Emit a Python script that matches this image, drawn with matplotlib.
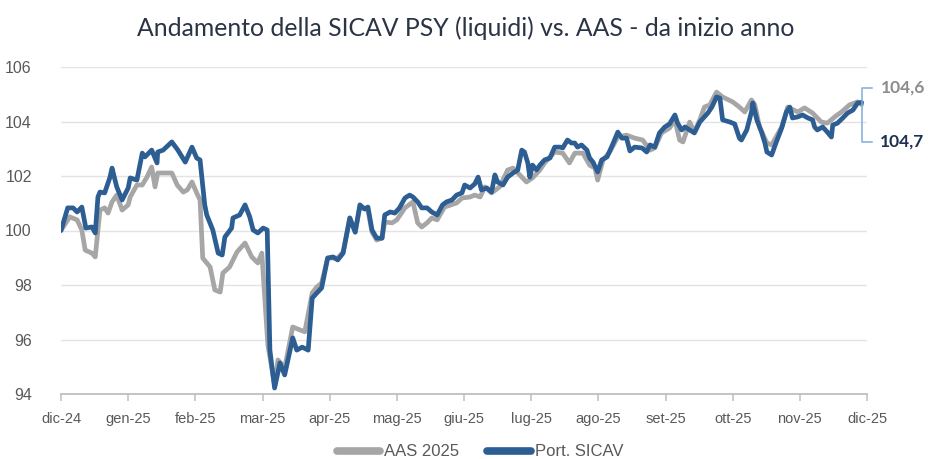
import matplotlib
matplotlib.use("Agg")
import matplotlib.pyplot as plt
from matplotlib import font_manager

# ---------------- data (x = months since dic-24) ----------------
month_labels = ["dic-24", "gen-25", "feb-25", "mar-25", "apr-25", "mag-25", "giu-25",
                "lug-25", "ago-25", "set-25", "ott-25", "nov-25", "dic-25"]
y_ticks = [94, 96, 98, 100, 102, 104, 106]

t_sicav = [0.00, 0.10, 0.18, 0.24, 0.31, 0.37, 0.46, 0.51, 0.55, 0.58, 0.65, 0.73, 0.76, 0.83,
           0.91, 1.00, 1.03, 1.13, 1.21, 1.25, 1.35, 1.43, 1.44, 1.52, 1.65, 1.74, 1.85, 1.95,
           2.02, 2.07, 2.14, 2.17, 2.26, 2.34, 2.40, 2.44, 2.54, 2.56, 2.66, 2.74, 2.81, 2.86,
           2.93, 3.01, 3.07, 3.11, 3.18, 3.26, 3.33, 3.45, 3.51, 3.59, 3.68, 3.74, 3.81, 3.88,
           3.97, 4.05, 4.12, 4.20, 4.30, 4.38, 4.45, 4.52, 4.57, 4.63, 4.70, 4.78, 4.82, 4.90,
           4.97, 5.04, 5.12, 5.19, 5.24, 5.31, 5.37, 5.45, 5.52, 5.60, 5.68, 5.74, 5.82, 5.89,
           5.97, 6.01, 6.09, 6.16, 6.21, 6.26, 6.34, 6.41, 6.46, 6.50, 6.58, 6.65, 6.73, 6.80,
           6.86, 6.90, 6.95, 6.98, 7.02, 7.08, 7.13, 7.20, 7.28, 7.35, 7.43, 7.47, 7.54, 7.60,
           7.65, 7.69, 7.75, 7.83, 7.87, 7.92, 7.99, 8.05, 8.13, 8.21, 8.29, 8.35, 8.42, 8.47,
           8.54, 8.65, 8.72, 8.77, 8.84, 8.91, 8.99, 9.06, 9.14, 9.18, 9.24, 9.29, 9.36, 9.43,
           9.51, 9.58, 9.63, 9.69, 9.76, 9.81, 9.85, 9.96, 10.03, 10.10, 10.13, 10.21, 10.28,
           10.30, 10.36, 10.43, 10.48, 10.51, 10.58, 10.65, 10.73, 10.80, 10.85, 10.89, 10.97,
           11.04, 11.12, 11.19, 11.22, 11.26, 11.34, 11.41, 11.47, 11.49, 11.56, 11.64, 11.71,
           11.79, 11.86, 11.92]
sicav = [100.00, 100.83, 100.83, 100.68, 100.86, 100.09, 100.13, 99.91, 101.23, 101.41, 101.38,
         101.96, 102.29, 101.60, 101.12, 101.56, 101.93, 101.85, 102.84, 102.70, 102.95, 102.48,
         102.88, 102.95, 103.25, 102.95, 102.51, 103.06, 102.66, 102.59, 100.94, 100.57, 100.02,
         99.17, 99.10, 99.76, 100.09, 100.46, 100.57, 100.94, 100.50, 100.02, 99.91, 100.09,
         100.02, 95.61, 94.22, 95.14, 94.70, 96.06, 95.61, 95.72, 95.61, 97.52, 97.71, 97.89,
         98.99, 99.03, 98.92, 99.17, 100.46, 99.94, 100.94, 100.79, 100.86, 100.02, 99.72, 99.72,
         100.57, 100.68, 100.64, 100.83, 101.19, 101.30, 101.23, 101.05, 100.83, 100.83, 100.68,
         100.57, 100.94, 101.05, 101.12, 101.30, 101.38, 101.67, 101.56, 101.71, 101.96, 101.49,
         101.56, 101.41, 102.04, 101.78, 101.67, 101.96, 102.11, 102.22, 102.95, 102.88, 102.48,
         101.96, 102.40, 102.22, 102.40, 102.59, 102.66, 103.06, 103.06, 103.03, 103.32, 103.21,
         103.21, 103.06, 103.14, 102.95, 102.66, 102.51, 102.15, 102.59, 102.70, 103.14, 103.61,
         103.39, 103.39, 102.92, 103.06, 103.03, 102.88, 103.14, 103.06, 103.58, 103.80, 103.91,
         104.24, 103.94, 103.69, 103.80, 103.69, 103.58, 103.98, 104.17, 104.31, 104.53, 104.90,
         104.86, 104.06, 103.98, 103.91, 103.39, 103.32, 103.69, 104.35, 104.68, 104.06, 103.61,
         103.21, 102.88, 102.77, 103.25, 103.76, 104.35, 104.53, 104.13, 104.17, 104.24, 104.13,
         104.06, 103.80, 103.69, 103.80, 103.61, 103.43, 103.87, 103.94, 104.13, 104.31, 104.42,
         104.68, 104.70]

t_aas = [0.00, 0.13, 0.24, 0.31, 0.36, 0.46, 0.51, 0.58, 0.65, 0.70, 0.76, 0.83, 0.91, 1.00,
         1.03, 1.13, 1.21, 1.28, 1.35, 1.40, 1.44, 1.59, 1.65, 1.73, 1.82, 1.88, 1.95, 2.02,
         2.07, 2.11, 2.22, 2.29, 2.37, 2.41, 2.51, 2.62, 2.74, 2.84, 2.93, 2.99, 3.08, 3.18,
         3.23, 3.33, 3.45, 3.63, 3.74, 3.81, 3.88, 3.97, 4.12, 4.20, 4.30, 4.38, 4.45, 4.57,
         4.63, 4.70, 4.78, 4.82, 4.93, 5.00, 5.12, 5.24, 5.31, 5.37, 5.45, 5.52, 5.60, 5.71,
         5.89, 5.97, 6.09, 6.16, 6.24, 6.31, 6.41, 6.53, 6.65, 6.73, 6.83, 6.93, 7.02, 7.13,
         7.20, 7.35, 7.47, 7.57, 7.65, 7.77, 7.87, 7.95, 7.99, 8.07, 8.17, 8.29, 8.42, 8.54,
         8.66, 8.77, 8.84, 8.94, 9.06, 9.14, 9.21, 9.26, 9.36, 9.43, 9.51, 9.58, 9.66, 9.76,
         9.85, 10.00, 10.10, 10.18, 10.28, 10.33, 10.40, 10.51, 10.58, 10.73, 10.82, 10.97,
         11.07, 11.19, 11.32, 11.41, 11.52, 11.62, 11.74, 11.86, 11.92]
aas = [100.00, 100.50, 100.39, 100.02, 99.28, 99.17, 99.03, 100.75, 100.83, 100.64, 101.05,
       101.30, 100.75, 100.94, 101.23, 101.67, 101.67, 101.96, 102.33, 101.60, 102.11, 102.11,
       102.11, 101.67, 101.41, 101.49, 101.78, 101.38, 101.12, 98.99, 98.66, 97.82, 97.74,
       98.44, 98.66, 99.21, 99.54, 99.03, 98.81, 99.17, 95.80, 94.33, 95.25, 94.95, 96.46,
       96.28, 97.71, 97.93, 98.07, 98.99, 98.99, 99.21, 100.46, 99.94, 100.86, 100.75, 99.94,
       99.65, 99.72, 100.31, 100.28, 100.39, 100.83, 101.05, 100.28, 100.13, 100.28, 100.46,
       100.39, 100.86, 101.01, 101.19, 101.23, 101.30, 101.23, 101.60, 101.38, 101.60, 102.22,
       102.29, 102.04, 101.78, 101.93, 102.22, 102.48, 102.88, 102.84, 102.48, 102.84, 102.84,
       102.40, 102.29, 101.85, 102.59, 102.88, 103.43, 103.50, 103.39, 103.32, 102.95, 103.03,
       103.58, 103.76, 104.06, 103.32, 103.25, 103.98, 103.61, 104.06, 104.53, 104.61, 105.08,
       104.90, 104.72, 104.53, 104.35, 104.79, 104.61, 103.80, 103.21, 103.14, 103.80, 104.53,
       104.35, 104.50, 104.31, 103.98, 103.94, 104.17, 104.35, 104.61, 104.72, 104.62]

label_aas = "104,6"
label_sicav = "104,7"

# ---------------- fonts ----------------
available = {f.name for f in font_manager.fontManager.ttflist}
narrow = "Liberation Sans Narrow" if "Liberation Sans Narrow" in available else "Liberation Sans"
body = "Lato" if "Lato" in available else "DejaVu Sans"

# ---------------- style ----------------
c_aas = "#A6A6A6"
c_sicav = "#2C5D93"
c_text = "#595959"

fig = plt.figure(figsize=(9.32, 4.59), dpi=100)
ax = fig.add_axes([61 / 932, 1 - 394 / 459, 806 / 932, 327 / 459])

ax.plot(t_aas, aas, color=c_aas, lw=3.4, solid_joinstyle="round", solid_capstyle="round",
        label="AAS 2025", zorder=3)
ax.plot(t_sicav, sicav, color=c_sicav, lw=3.4, solid_joinstyle="round", solid_capstyle="round",
        label="Port. SICAV", zorder=4)

ax.set_xlim(0, len(month_labels) - 1)
ax.set_ylim(y_ticks[0], y_ticks[-1])
ax.set_xticks(range(len(month_labels)))
ax.set_xticklabels(month_labels, fontfamily=narrow, fontsize=10.5, color=c_text)
ax.set_yticks(y_ticks)
ax.set_yticklabels([str(v) for v in y_ticks], fontfamily=narrow, fontsize=11.5, color=c_text)

for v in y_ticks[1:]:
    ax.axhline(v, color="#E3E3E3", lw=1.0, zorder=1)

for s in ["left", "right", "top"]:
    ax.spines[s].set_visible(False)
ax.spines["bottom"].set_color("#BFBFBF")
ax.spines["bottom"].set_linewidth(1.3)
ax.tick_params(axis="x", direction="out", length=5, width=1.1, color="#BFBFBF", pad=8)
ax.tick_params(axis="y", length=0, pad=21)

# callouts
x_end = t_sicav[-1]
ax.plot([x_end + 0.16, x_end, x_end, x_end + 0.16],
        [105.23, 105.23, 103.25, 103.25], color="#7FAEDB", lw=1.1, clip_on=False, zorder=5)
ax.text(x_end + 0.29, 105.23, label_aas, color="#8C8C8C", fontsize=12.5, fontweight="bold",
        fontfamily=body, va="center", ha="left", clip_on=False)
ax.text(x_end + 0.27, 103.25, label_sicav, color="#1F3050", fontsize=12.5, fontweight="bold",
        fontfamily=body, va="center", ha="left", clip_on=False)

fig.text(0.5, 1 - 28 / 459, "Andamento della SICAV PSY (liquidi) vs. AAS - da inizio anno",
         ha="center", va="center", fontsize=17.8, color="#2B3445", fontfamily=body)

leg = fig.legend(loc="center", bbox_to_anchor=(0.515, 1 - 452 / 459), ncol=2, frameon=False,
                 handlelength=2.6, handletextpad=0.25, columnspacing=1.7,
                 prop={"family": narrow, "size": 12})
for txt in leg.get_texts():
    txt.set_color(c_text)
for line in leg.get_lines():
    line.set_linewidth(5.5)
    line.set_solid_capstyle("round")

fig.savefig("out.png", dpi=100)
